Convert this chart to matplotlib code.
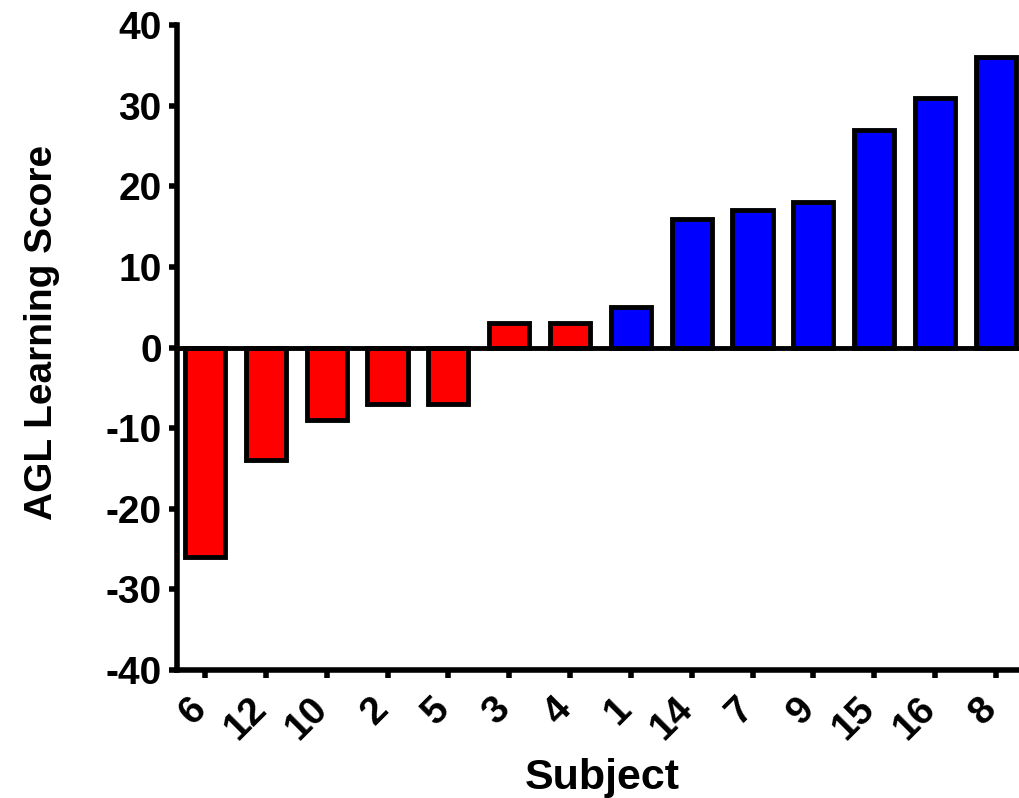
import matplotlib
matplotlib.use("Agg")
import matplotlib.pyplot as plt
import matplotlib.transforms as mtransforms

subjects = ["6", "12", "10", "2", "5", "3", "4", "1", "14", "7", "9", "15", "16", "8"]
scores = [-26, -14, -9, -7, -7, 3, 3, 5, 16, 17, 18, 27, 31, 36]
colors = ["#FF0000"] * 7 + ["#0000FF"] * 7
yticks = [-40, -30, -20, -10, 0, 10, 20, 30, 40]

plt.rcParams['font.family'] = ['Liberation Sans', 'DejaVu Sans']
plt.rcParams['font.weight'] = 'bold'
plt.rcParams['axes.unicode_minus'] = False

fig = plt.figure(figsize=(10.19, 7.98), dpi=100)
ax = fig.add_axes([177/1019, 1 - 670/798, 1 - 177/1019, (670 - 25)/798])

x = list(range(len(subjects)))
ax.bar(x, scores, width=0.66, color=colors, edgecolor='black', linewidth=3.5, zorder=2)
ax.axhline(0, color='black', linewidth=3.5, zorder=3)

ax.set_xlim(-0.46, 13.38)
ax.set_ylim(-40, 40)
ax.set_yticks(yticks)
ax.set_xticks(x)
ax.set_xticklabels(subjects, rotation=45, ha='right', va='top', fontsize=28, fontweight='bold')
for lbl in ax.get_yticklabels():
    lbl.set_fontsize(28)
    lbl.set_fontweight('bold')

for s in ['top', 'right']:
    ax.spines[s].set_visible(False)
for s in ['left', 'bottom']:
    ax.spines[s].set_linewidth(4)
    ax.spines[s].set_capstyle('projecting')
ax.spines['bottom'].set_zorder(4)
ax.tick_params(axis='both', length=6, width=4, color='black')
ax.tick_params(axis='y', pad=5)
ax.tick_params(axis='x', pad=9)

offset = mtransforms.ScaledTranslation(8/100, 0, fig.dpi_scale_trans)
for lbl in ax.xaxis.get_majorticklabels():
    lbl.set_transform(lbl.get_transform() + offset)

ax.set_xlabel("Subject", fontsize=31, fontweight='bold')
ax.xaxis.set_label_coords((602 - 177)/842, -88/645)
ax.xaxis.label.set_va('top')
ax.set_ylabel("AGL Learning Score", fontsize=28, fontweight='bold')
ax.yaxis.set_label_coords((42 - 177)/842, (670 - 332)/645)
ax.yaxis.label.set_va('center')

fig.savefig("out.png", dpi=100)
